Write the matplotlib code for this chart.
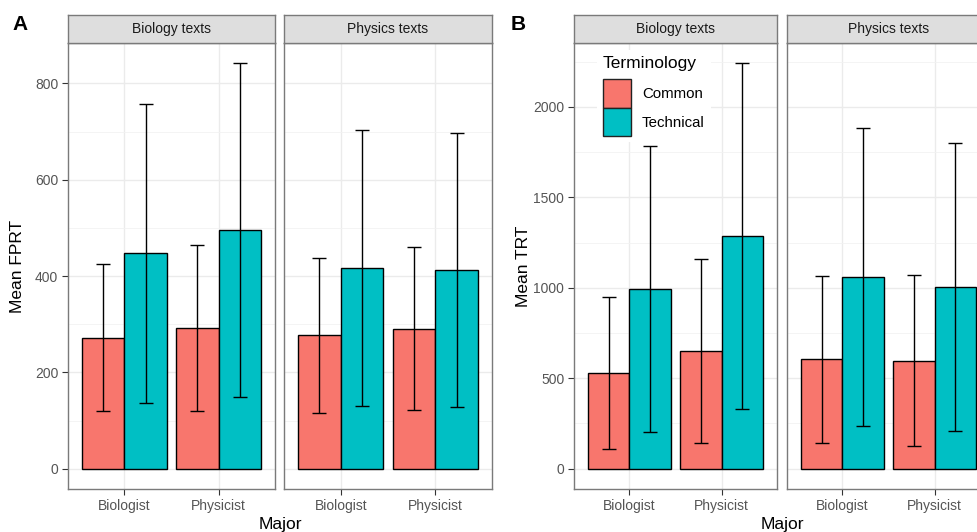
import numpy as np
import matplotlib.pyplot as plt
from matplotlib.patches import Patch
from matplotlib.ticker import MultipleLocator

plt.rcParams['font.family'] = ['Liberation Sans', 'DejaVu Sans']

majors = ["Biologist", "Physicist"]
texts = ["Biology texts", "Physics texts"]
terms = ["Common", "Technical"]
colors = ["#F8766D", "#00BFC4"]

# rows = text type (Biology, Physics), cols = major (Biologist, Physicist)
fprt_common = [[272, 292], [277, 291]]
fprt_common_sd = [[153, 172], [161, 170]]
fprt_tech = [[447, 495], [417, 413]]
fprt_tech_sd = [[310, 347], [286, 284]]

trt_common = [[528, 651], [605, 598]]
trt_common_sd = [[419, 509], [461, 470]]
trt_tech = [[993, 1285], [1060, 1003]]
trt_tech_sd = [[789, 956], [822, 796]]

W, H = 977, 532
fig = plt.figure(figsize=(W / 100, H / 100), dpi=100)

border = "#7a7a7a"


def px_axes(left, right, top, bottom):
    return fig.add_axes([left / W, (H - bottom) / H, (right - left) / W, (bottom - top) / H])


def draw_block(lefts, rights, means_c, sds_c, means_t, sds_t, ystep, ylabel, xlab_x, letter, letter_x):
    ymax = max(max(np.add(means_c[i], sds_c[i]).max(), np.add(means_t[i], sds_t[i]).max()) for i in range(2))
    axes = []
    for i in range(2):
        ax = px_axes(lefts[i], rights[i], 43, 489)
        x = np.arange(1, 3)
        ax.bar(x - 0.225, means_c[i], width=0.45, color=colors[0], edgecolor="black", linewidth=1.0, zorder=2)
        ax.bar(x + 0.225, means_t[i], width=0.45, color=colors[1], edgecolor="black", linewidth=1.0, zorder=2)
        ax.errorbar(x - 0.225, means_c[i], yerr=sds_c[i], fmt="none", ecolor="black",
                    elinewidth=1.0, capsize=5, capthick=1.0, zorder=3)
        ax.errorbar(x + 0.225, means_t[i], yerr=sds_t[i], fmt="none", ecolor="black",
                    elinewidth=1.0, capsize=5, capthick=1.0, zorder=3)
        ax.set_xlim(0.4, 2.6)
        ax.set_ylim(-0.05 * ymax, 1.05 * ymax)
        ax.set_xticks(x)
        ax.set_xticklabels(majors)
        ax.yaxis.set_major_locator(MultipleLocator(ystep))
        ax.yaxis.set_minor_locator(MultipleLocator(ystep / 2))
        ax.set_axisbelow(True)
        ax.grid(which="major", color="#EBEBEB", linewidth=1.0)
        ax.grid(which="minor", axis="y", color="#F2F2F2", linewidth=0.6)
        ax.tick_params(axis="both", which="major", colors="#333333", labelcolor="#555555",
                       labelsize=10, length=4, width=0.8, pad=3)
        ax.tick_params(which="minor", length=0)
        if i == 1:
            ax.tick_params(axis="y", which="both", left=False, labelleft=False)
        for s in ax.spines.values():
            s.set_color(border)
            s.set_linewidth(1.0)
        # facet strip
        st = px_axes(lefts[i], rights[i], 15, 43)
        st.set_facecolor("#DEDEDE")
        st.set_xticks([])
        st.set_yticks([])
        for s in st.spines.values():
            s.set_color(border)
            s.set_linewidth(1.0)
        st.text(0.5, 0.5, texts[i], ha="center", va="center", fontsize=10, color="#1A1A1A",
                transform=st.transAxes)
        axes.append(ax)
    fig.text((lefts[0] - 50) / W, (H - 266) / H, ylabel,
             rotation=90, ha="center", va="center", fontsize=12.5)
    fig.text(xlab_x / W, (H - 524) / H, "Major", ha="center", va="center", fontsize=12.5)
    fig.text(letter_x / W, (H - 24) / H, letter, ha="center", va="center", fontsize=15, fontweight="bold")
    return axes


axA = draw_block([68, 284], [275, 492], fprt_common, fprt_common_sd, fprt_tech, fprt_tech_sd,
                 200, "Mean FPRT", 280, "A", 20)
axB = draw_block([574, 787], [777, 990], trt_common, trt_common_sd, trt_tech, trt_tech_sd,
                 500, "Mean TRT", 782, "B", 518)

handles = [Patch(facecolor=colors[k], edgecolor="#222222", linewidth=1.0, label=terms[k]) for k in range(2)]
leg = axB[0].legend(handles=handles, title="Terminology", loc="upper left",
                    bbox_to_anchor=(597 / W, (H - 50) / H), bbox_transform=fig.transFigure,
                    frameon=True, fancybox=False, edgecolor="none", facecolor="white", framealpha=1,
                    fontsize=10.8, title_fontsize=12.5, handlelength=1.85, handleheight=2.55,
                    labelspacing=0.0, handletextpad=0.75, borderpad=0.4, borderaxespad=0,
                    alignment="left")
leg._legend_box.sep = 6

fig.savefig("out.png", dpi=100)
